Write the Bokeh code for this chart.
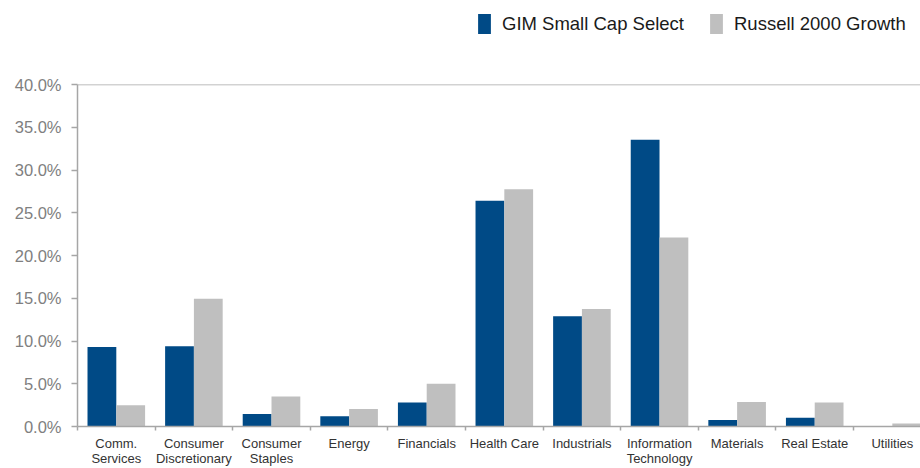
from bokeh.plotting import figure
from bokeh.layouts import column
from bokeh.models import (Range1d, FixedTicker, PrintfTickFormatter, Span,
                          ColumnDataSource, Legend, LegendItem)
from bokeh.embed import file_html
from bokeh.resources import INLINE

categories = ["Comm.\nServices", "Consumer\nDiscretionary", "Consumer\nStaples",
              "Energy", "Financials", "Health Care", "Industrials",
              "Information\nTechnology", "Materials", "Real Estate", "Utilities"]
gim = [9.3, 9.4, 1.45, 1.2, 2.8, 26.4, 12.9, 33.55, 0.77, 1.03, 0.0]
russell = [2.5, 14.95, 3.5, 2.05, 5.0, 27.75, 13.75, 22.1, 2.87, 2.8, 0.35]
y_ticks = [0, 5, 10, 15, 20, 25, 30, 35, 40]
series_names = ["GIM Small Cap Select", "Russell 2000 Growth"]

BLUE = "#004A86"
GREY = "#BFBFBF"
AXIS = "#A6A6A6"
FONT = "Liberation Sans"

n = len(categories)
idx = list(range(n))
bar_w = 0.371

src = ColumnDataSource(dict(
    x_gim=[i + 0.3145 for i in idx],
    x_rus=[i + 0.6855 for i in idx],
    gim=gim, russell=russell,
))

# ---------- legend strip (its bars lie entirely outside its visible ranges) ----------
LEG_H = 74
lf = figure(width=920, height=LEG_H, output_backend="svg", toolbar_location=None,
            x_range=Range1d(100, 200), y_range=Range1d(100, 200),
            x_axis_type=None, y_axis_type=None,
            min_border_left=77, min_border_right=0, min_border_top=0, min_border_bottom=0)
lf.outline_line_color = None
lf.xgrid.visible = False
lf.ygrid.visible = False
d1 = lf.vbar(x="x_gim", top="gim", width=bar_w, source=src, fill_color=BLUE, line_color=None)
d2 = lf.vbar(x="x_rus", top="russell", width=bar_w, source=src, fill_color=GREY, line_color=None)
legend = Legend(items=[LegendItem(label=series_names[0], renderers=[d1]),
                       LegendItem(label=series_names[1], renderers=[d2])],
                location=(476 - 77, LEG_H - 36), orientation="horizontal",
                glyph_width=16, glyph_height=25, label_height=25,
                label_standoff=10, spacing=24, padding=0, margin=0,
                border_line_color=None, background_fill_alpha=0,
                label_text_font=FONT, label_text_font_size="18.5px",
                label_text_color="#1A1A1A")
lf.add_layout(legend, "center")

# ---------- main chart ----------
p = figure(width=920, height=468 - LEG_H, output_backend="svg", toolbar_location=None,
           x_range=Range1d(0, 10.863), y_range=Range1d(0, 40),
           min_border_left=77, min_border_right=0, min_border_top=10,
           min_border_bottom=10)
p.outline_line_color = None
p.xgrid.visible = False
p.ygrid.visible = False

p.vbar(x="x_gim", top="gim", width=bar_w, source=src, fill_color=BLUE, line_color=None)
p.vbar(x="x_rus", top="russell", width=bar_w, source=src, fill_color=GREY, line_color=None)

# top frame line
p.add_layout(Span(location=40, dimension="width", line_color=AXIS, line_width=1.5))

# y axis
ya = p.yaxis[0]
ya.ticker = FixedTicker(ticks=y_ticks)
ya.formatter = PrintfTickFormatter(format="%.1f%%")
ya.axis_line_color = AXIS
ya.axis_line_width = 1.5
ya.major_tick_line_color = AXIS
ya.major_tick_line_width = 1.5
ya.major_tick_out = 6
ya.major_tick_in = 0
ya.minor_tick_line_color = None
ya.major_label_standoff = 10
ya.major_label_text_font = FONT
ya.major_label_text_font_size = "16.5px"
ya.major_label_text_color = "#808080"

# x axis: labels at category centres, tick marks at boundaries (minor ticks)
xa = p.xaxis[0]
xa.ticker = FixedTicker(ticks=[i + 0.5 for i in idx],
                        minor_ticks=list(range(n + 1)))
xa.major_label_overrides = {i + 0.5: categories[i] for i in idx}
xa.major_label_text_font = FONT
xa.major_label_text_font_size = "13px"
xa.major_label_text_color = "#333333"
xa.major_label_text_line_height = 1.0
xa.major_label_standoff = 5
xa.axis_line_color = AXIS
xa.axis_line_width = 1.5
xa.major_tick_line_color = None
xa.major_tick_out = 0
xa.major_tick_in = 0
xa.minor_tick_line_color = AXIS
xa.minor_tick_line_width = 1.5
xa.minor_tick_out = 4
xa.minor_tick_in = 0

layout = column(lf, p, spacing=0)
open("out.html", "w").write(file_html(layout, INLINE))
